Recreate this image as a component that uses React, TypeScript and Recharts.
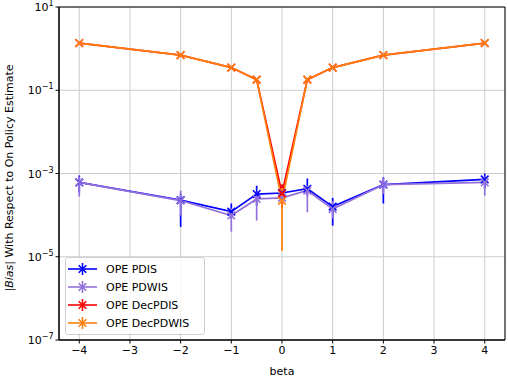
import React from 'react'
import {
  ComposedChart, Line, XAxis, YAxis, CartesianGrid, ErrorBar, Legend, ReferenceArea, Label,
} from 'recharts'

const betas = [-4, -2, -1, -0.5, 0, 0.5, 1, 2, 4]

// mean |bias| per beta, with the lower / upper ends of each error bar
const pdis = [6.1e-4, 2.3e-4, 1.21e-4, 3.2e-4, 3.4e-4, 4.3e-4, 1.6e-4, 5.4e-4, 7.2e-4]
const pdisLow = [3.5e-4, 5.2e-5, 8.3e-5, 1.7e-4, 2.2e-4, 2.95e-4, 5.6e-5, 1.9e-4, 4.35e-4]
const pdisHigh = [8.95e-4, 3.3e-4, 1.9e-4, 5.1e-4, 5.1e-4, 7.6e-4, 2.6e-4, 8.1e-4, 1.0e-3]

const pdwis = [6.1e-4, 2.24e-4, 9.8e-5, 2.45e-4, 2.6e-4, 3.9e-4, 1.4e-4, 5.4e-4, 6.1e-4]
const pdwisLow = [2.8e-4, 9.8e-5, 4.0e-5, 7.4e-5, 1.9e-4, 1.17e-4, 8.3e-5, 3.2e-4, 2.95e-4]
const pdwisHigh = [8.5e-4, 3.9e-4, 1.45e-4, 3.5e-4, 3.5e-4, 5.1e-4, 2.2e-4, 7.9e-4, 8.5e-4]

const decPdis = [1.36, 0.7, 0.35, 0.18, 3.3e-4, 0.18, 0.35, 0.7, 1.36]
const decPdisLow = [1.33, 0.69, 0.345, 0.177, 1.5e-4, 0.177, 0.345, 0.69, 1.33]
const decPdisHigh = [1.39, 0.71, 0.355, 0.183, 5.5e-4, 0.183, 0.355, 0.71, 1.39]

const decPdwis = [1.36, 0.7, 0.35, 0.18, 2.2e-4, 0.18, 0.35, 0.7, 1.36]
const decPdwisLow = [1.33, 0.69, 0.345, 0.177, 1.4e-5, 0.177, 0.345, 0.69, 1.33]
const decPdwisHigh = [1.39, 0.71, 0.355, 0.183, 4.5e-4, 0.183, 0.355, 0.71, 1.39]

const xTicks = [-4, -3, -2, -1, 0, 1, 2, 3, 4]
const yTicks = [1e1, 1e-1, 1e-3, 1e-5, 1e-7]

const series = [
  { key: 'pdis', name: 'OPE PDIS', color: '#0000ff', vals: pdis, lo: pdisLow, hi: pdisHigh },
  { key: 'pdwis', name: 'OPE PDWIS', color: '#9370db', vals: pdwis, lo: pdwisLow, hi: pdwisHigh },
  { key: 'decPdis', name: 'OPE DecPDIS', color: '#ff0000', vals: decPdis, lo: decPdisLow, hi: decPdisHigh },
  { key: 'decPdwis', name: 'OPE DecPDWIS', color: '#ff7f0e', vals: decPdwis, lo: decPdwisLow, hi: decPdwisHigh },
]

const data = betas.map((b, i) => {
  const row: any = { beta: b }
  series.forEach(s => {
    row[s.key] = s.vals[i]
    row[s.key + 'Err'] = [s.vals[i] - s.lo[i], s.hi[i] - s.vals[i]]
  })
  return row
})

const FONT = 'DejaVu Sans, sans-serif'

const xMarker = (color: string) => (props: any) => {
  const { cx, cy, index } = props
  if (cx == null || cy == null) return <g key={index} />
  const r = 3.8
  return (
    <g key={index} stroke={color} strokeWidth={1.6}>
      <line x1={cx - r} y1={cy - r} x2={cx + r} y2={cy + r} />
      <line x1={cx - r} y1={cy + r} x2={cx + r} y2={cy - r} />
    </g>
  )
}

const YTick = (props: any) => {
  const { x, y, payload } = props
  const exp = Math.round(Math.log10(payload.value))
  const expText = exp < 0 ? '\u2212' + Math.abs(exp) : String(exp)
  return (
    <text x={x} y={y + 4} textAnchor="end" fontSize={11} fontFamily={FONT} fill="#000">
      <tspan>10</tspan>
      <tspan dy={-5} fontSize={8}>{expText}</tspan>
    </text>
  )
}

const LegendBox = () => (
  <div style={{
    background: 'rgba(255,255,255,0.8)', border: '1px solid #d0d0d0', borderRadius: 3,
    width: 138, padding: '2px 0', fontFamily: FONT, fontSize: 11, color: '#000',
  }}>
    {series.map(s => (
      <div key={s.key} style={{ display: 'flex', alignItems: 'center', height: 18 }}>
        <svg width={40} height={18} style={{ display: 'block' }}>
          <g stroke={s.color} strokeWidth={1.6}>
            <line x1={2} y1={9} x2={31} y2={9} />
            <line x1={16.5} y1={3} x2={16.5} y2={15} />
            <line x1={12.7} y1={5.2} x2={20.3} y2={12.8} />
            <line x1={12.7} y1={12.8} x2={20.3} y2={5.2} />
          </g>
        </svg>
        <span>{s.name}</span>
      </div>
    ))}
  </div>
)

export default function App() {
  return (
    <div style={{ position: 'absolute', left: 0, top: 0 }}>
      <ComposedChart width={508} height={378} data={data} margin={{ top: 7, right: 3, left: 0, bottom: 0 }}>
        <CartesianGrid stroke="#cccccc" strokeWidth={1} />
        <XAxis
          dataKey="beta"
          type="number"
          domain={[-4.4, 4.4]}
          ticks={xTicks}
          interval={0}
          allowDataOverflow
          height={38}
          tickSize={3.5}
          tickMargin={3}
          stroke="#000"
          tick={{ fontSize: 11, fill: '#000', fontFamily: FONT }}
          tickFormatter={(v: number) => String(v).replace('-', '\u2212')}
        >
          <Label value="beta" position="insideBottom" offset={3} fontSize={11} fill="#000" fontFamily={FONT} />
        </XAxis>
        <YAxis
          type="number"
          scale="log"
          domain={[1e-7, 10]}
          ticks={yTicks}
          interval={0}
          allowDataOverflow
          width={59}
          tickSize={3.5}
          stroke="#000"
          tick={<YTick />}
          label={{
            content: () => (
              <text transform="rotate(-90, 13, 178)" x={13} y={178} textAnchor="middle" fontSize={11} fontFamily={FONT} fill="#000">
                |<tspan fontStyle="italic">Bias</tspan>| With Respect to On Policy Estimate
              </text>
            ),
          }}
        />
        <ReferenceArea x1={-4.4} x2={4.4} y1={1e-7} y2={10} fill="none" stroke="#000" strokeWidth={1} ifOverflow="visible" />
        {series.map(s => (
          <Line
            key={s.key}
            dataKey={s.key}
            name={s.name}
            stroke={s.color}
            strokeWidth={1.7}
            type="linear"
            dot={xMarker(s.color)}
            activeDot={false}
            isAnimationActive={false}
          >
            <ErrorBar dataKey={s.key + 'Err'} direction="y" width={0} stroke={s.color} strokeWidth={1.7} isAnimationActive={false} />
          </Line>
        ))}
        <Legend
          layout="vertical"
          align="center"
          verticalAlign="middle"
          wrapperStyle={{ left: 65, top: 257, width: 140 }}
          content={() => <LegendBox />}
        />
      </ComposedChart>
    </div>
  )
}
